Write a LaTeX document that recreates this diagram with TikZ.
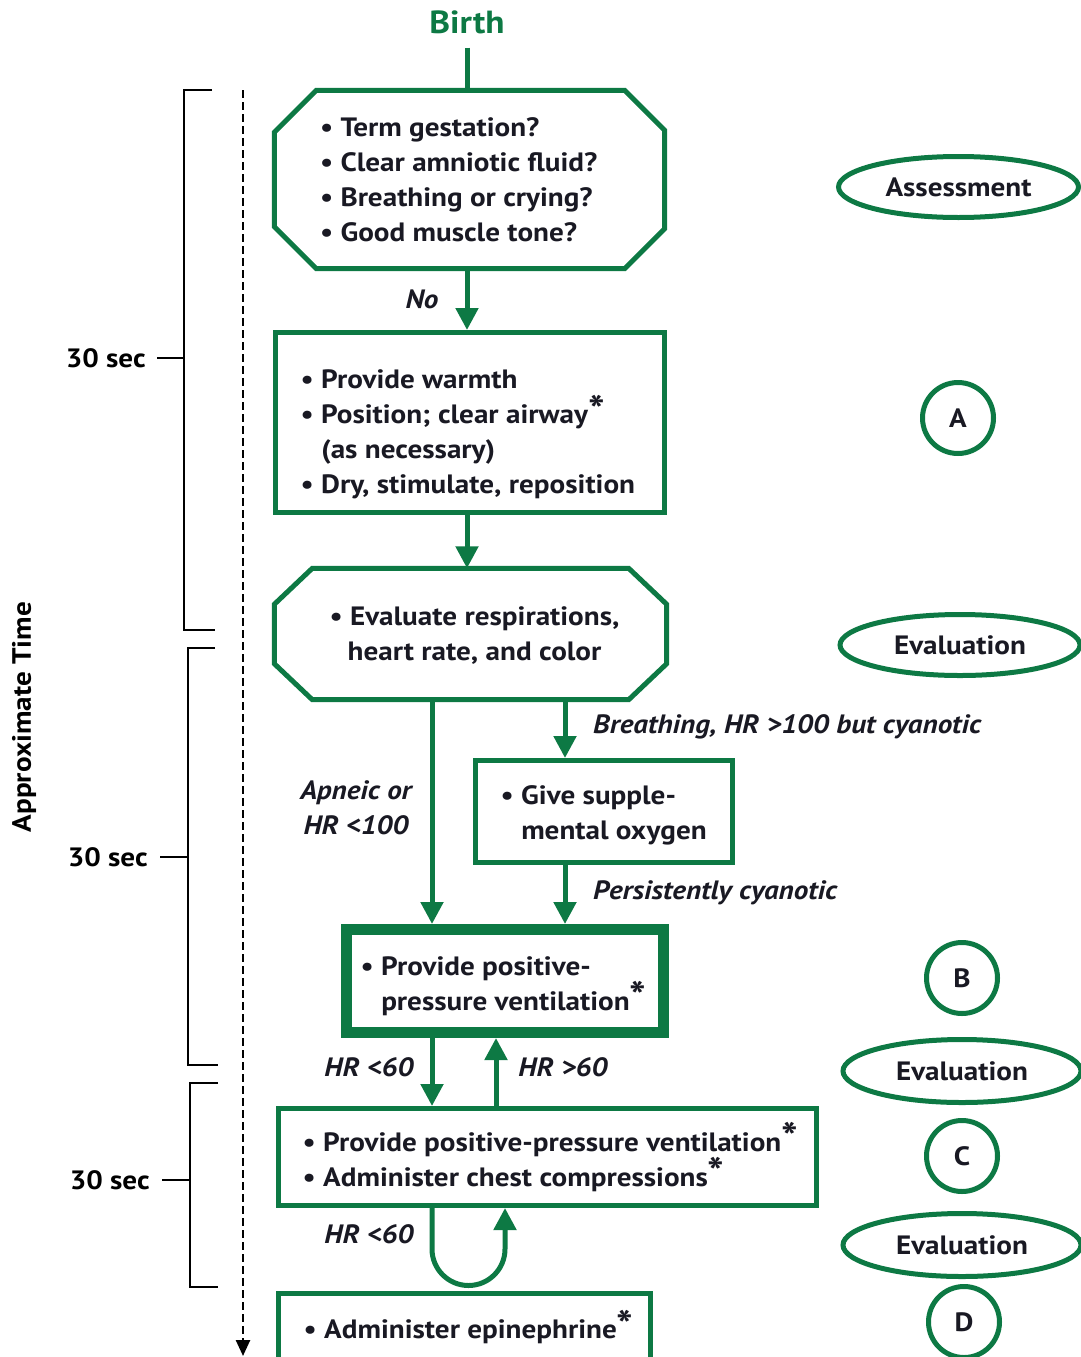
\documentclass[tikz,border=0pt]{standalone}
\usepackage{fontspec}
\setmainfont{PT Sans}[FakeStretch=1.1]
\usetikzlibrary{arrows.meta,shapes.geometric,calc}
\definecolor{nrpgreen}{RGB}{13,121,68}
\definecolor{ink}{RGB}{25,25,35}
\newcommand{\astk}{\raisebox{-0.02em}{\fontsize{40}{40}\selectfont *}}
\begin{document}
\begin{tikzpicture}[x=1pt,y=-1pt,
  every node/.style={font=\bfseries\fontsize{26.5}{35}\selectfont, text=ink},
  gline/.style={draw=nrpgreen, line width=5pt},
  arr/.style={gline, -{Triangle[length=22pt,width=22pt]}},
  frame/.style={draw=nrpgreen, line width=5pt, rectangle, inner sep=0pt},
  shell/.style={draw=none, rectangle, inner sep=0pt},
  txt/.style={anchor=west, align=left, inner sep=0pt},
  lab/.style={font=\bfseries\itshape\fontsize{26.5}{35}\selectfont, inner sep=0pt},
  oval/.style={ellipse, draw=nrpgreen, line width=5pt, inner sep=0pt},
  ring/.style={circle, draw=nrpgreen, line width=5pt, inner sep=0pt, minimum size=71pt},
  brk/.style={draw=black, line width=2.5pt},
  secl/.style={anchor=east, inner sep=0pt, text=black}
]
\useasboundingbox (0,0) rectangle (1081,1357);

% lanes for the vertical connectors
\coordinate (laneC) at (467,0);
\coordinate (laneL) at (432,0);
\coordinate (laneR) at (565,0);
\coordinate (laneUp) at (496,0);
\coordinate (loopR) at (505,0);

% ---------- start ----------
\node[font=\bfseries\fontsize{32}{32}\selectfont, text=nrpgreen, anchor=base, inner ysep=14pt] (birth) at (467,33) {Birth};

% ---------- assessment octagon ----------
\node[shell, minimum width=390pt, minimum height=178pt] (oct1) at (469.5,179.5) {};
\draw[gline] ([xshift=42pt]oct1.north west) -- ([xshift=-40pt]oct1.north east)
  -- ([yshift=-40pt]oct1.north east) -- ([yshift=40pt]oct1.south east)
  -- ([xshift=-40pt]oct1.south east) -- ([xshift=42pt]oct1.south west)
  -- ([yshift=42pt]oct1.south west) -- ([yshift=-42pt]oct1.north west) -- cycle;
\node[txt] (oct1t) at ([xshift=45.5pt]oct1.west) {• Term gestation?\\ • Clear amniotic fluid?\\ • Breathing or crying?\\ • Good muscle tone?};

% ---------- initial steps ----------
\node[frame, minimum width=389pt, minimum height=180pt] (box2) at (470,422.5) {};
\node[txt] (box2t) at ([xshift=27.5pt,yshift=-12pt]box2.west) {• Provide warmth\\ • Position; clear airway\astk\\ \phantom{• }(as necessary)\\ • Dry, stimulate, reposition};

% ---------- evaluation octagon ----------
\node[shell, minimum width=392pt, minimum height=131pt] (oct2) at (470.5,634) {};
\draw[gline] ([xshift=38pt]oct2.north west) -- ([xshift=-38pt]oct2.north east)
  -- ([yshift=-36pt]oct2.north east) -- ([yshift=36pt]oct2.south east)
  -- ([xshift=-38pt]oct2.south east) -- ([xshift=38pt]oct2.south west)
  -- ([yshift=36pt]oct2.south west) -- ([yshift=-36pt]oct2.north west) -- cycle;
\node[align=center, inner sep=0pt] (oct2t) at ([xshift=4pt,yshift=-2pt]oct2.center) {• Evaluate respirations,\\ heart rate, and color};

% ---------- oxygen ----------
\node[frame, minimum width=257pt, minimum height=102pt] (o2) at (604,811.5) {};
\node[txt] (o2t) at ([xshift=27.5pt,yshift=-4pt]o2.west) {• Give supple-\\ \phantom{• }mental oxygen};

% ---------- ventilation ----------
\node[frame, line width=11pt, minimum width=317pt, minimum height=103pt] (ppv) at (505,981) {};
\node[txt] (ppvt) at ([xshift=19.5pt,yshift=-5pt]ppv.west) {• Provide positive-\\ \phantom{• }pressure ventilation\astk};

% ---------- ventilation + compressions ----------
\node[frame, minimum width=538pt, minimum height=97pt] (boxC) at (547.5,1157) {};
\node[txt] (boxCt) at ([xshift=26.5pt]boxC.west) {• Provide positive-pressure ventilation\astk\\ • Administer chest compressions\astk};

% ---------- epinephrine ----------
\node[frame, minimum width=372pt, minimum height=70.5pt] (boxD) at (464.5,1328.75) {};
\node[txt] (boxDt) at ([xshift=27.5pt,yshift=2pt]boxD.west) {• Administer epinephrine\astk};

% ---------- connectors ----------
\draw[gline] (birth.south) -- (birth.south |- oct1.north);
\draw[arr] (oct1.south -| laneC) -- (box2.north -| laneC);
\draw[arr] (box2.south -| laneC) -- (oct2.north -| laneC);
\draw[arr] (oct2.south -| laneL) -- (ppv.north -| laneL);
\draw[arr] (oct2.south -| laneR) -- (o2.north -| laneR);
\draw[arr] (o2.south -| laneR) -- (ppv.north -| laneR);
\draw[arr] (ppv.south -| laneL) -- (boxC.north -| laneL);
\draw[arr] (boxC.north -| laneUp) -- (ppv.south -| laneUp);
\coordinate (loopL) at (432,1249);
\draw[arr] (boxC.south -| laneL) -- (loopL) arc[start angle=180, end angle=360, radius=36.5pt] -- (boxC.south -| loopR);

% ---------- connector labels ----------
\node[lab] (lno) at (422,299) {No};
\node[lab, align=center] (lapn) at (356,807.5) {Apneic or\\ HR <100};
\node[lab, anchor=west] (lbr) at (593,727) {Breathing, HR >100 but cyanotic};
\node[lab, anchor=west] (lpc) at (593,893) {Persistently cyanotic};
\node[lab] (lhr1) at (369,1067) {HR <60};
\node[lab] (lhr2) at (563,1067) {HR >60};
\node[lab] (lhr3) at (369,1234) {HR <60};

% ---------- phase markers ----------
\node[oval, minimum width=240pt, minimum height=61pt] (mAss) at (958.5,187) {Assessment};
\node[ring] (mA) at (958,418) {A};
\node[oval, minimum width=240pt, minimum height=61pt] (mEv1) at (960,645) {Evaluation};
\node[ring] (mB) at (962,978) {B};
\node[oval, minimum width=238pt, minimum height=63pt] (mEv2) at (962,1071) {Evaluation};
\node[ring] (mC) at (962,1156) {C};
\node[oval, minimum width=238pt, minimum height=63pt] (mEv3) at (962,1245) {Evaluation};
\node[ring] (mD) at (964,1322) {D};

% ---------- time axis ----------
\coordinate (tTop) at (243,90);
\coordinate (tBot) at (243,1356);
\draw[black, line width=2.5pt, dash pattern=on 8pt off 4pt, -{Triangle[length=16pt,width=14pt]}] (tTop) -- (tBot);
\node[rotate=90, inner sep=0pt, text=black] (apx) at (24,717) {Approximate Time};

\draw[brk] (212,90) -- (184,90) -- (184,630) -- (215,630);
\node[secl] (s1) at (146,358) {30 sec};
\draw[brk] (157,358) -- (184,358);

\draw[brk] (215,648) -- (188,648) -- (188,1065) -- (218,1065);
\node[secl] (s2) at (148,857) {30 sec};
\draw[brk] (160,857) -- (188,857);

\draw[brk] (218,1083) -- (190,1083) -- (190,1287) -- (218,1287);
\node[secl] (s3) at (150,1180) {30 sec};
\draw[brk] (162,1180) -- (190,1180);
\end{tikzpicture}
\end{document}
